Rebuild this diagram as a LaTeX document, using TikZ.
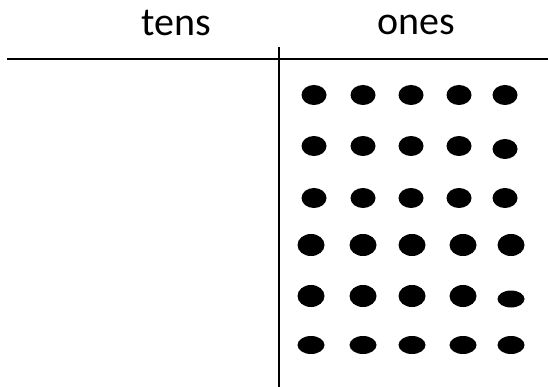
\documentclass[tikz,border=0pt]{standalone}
\usepackage{fontspec}
\setmainfont{Carlito}
\usetikzlibrary{shapes.geometric}
\tikzset{
  dot/.style={ellipse,fill=black,inner sep=0pt},
  rule/.style={line width=2.2pt},
  head/.style={font=\fontsize{40}{44}\selectfont,anchor=base,inner sep=0pt}
}
\begin{document}
\begin{tikzpicture}[x=1pt,y=-1pt]
\useasboundingbox (0,0) rectangle (548,387);
% column headings
\node[head] (tens) at (176,36) {tens};
\node[head] (ones) at (416,35) {ones};
% place value chart
\coordinate (hl) at (7,59);
\coordinate (hr) at (548,59);
\coordinate (vt) at (279,47);
\coordinate (vb) at (279,387);
\draw[rule] (hl) -- (hr);
\draw[rule] (vt) -- (vb);
% 30 ones
\foreach \r/\y/\yl/\hl in {1/95/95/20, 2/146/149/20, 3/198/198/20}
  \foreach \c/\x in {1/314,2/363,3/411,4/459,5/505}{
    \ifnum\c=5
      \node[dot,minimum width=25pt,minimum height=\hl pt] (d\r\c) at (\x,\yl) {};
    \else
      \node[dot,minimum width=25pt,minimum height=20pt] (d\r\c) at (\x,\y) {};
    \fi
  }
\foreach \r/\y/\h/\yl/\hl in {4/245/22/245/22, 5/296/22/299/17, 6/345/18/345/18}
  \foreach \c/\x in {1/311,2/363,3/412,4/463,5/511}{
    \ifnum\c=5
      \node[dot,minimum width=27pt,minimum height=\hl pt] (d\r\c) at (\x,\yl) {};
    \else
      \node[dot,minimum width=27pt,minimum height=\h pt] (d\r\c) at (\x,\y) {};
    \fi
  }
\end{tikzpicture}
\end{document}
